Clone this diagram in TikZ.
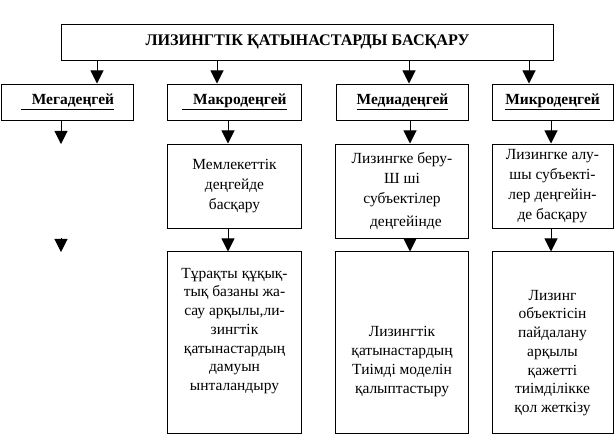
\documentclass[tikz,border=0pt]{standalone}
\usepackage{fontspec}
\setmainfont{Liberation Serif}
\usetikzlibrary{arrows.meta}

\begin{document}
\begin{tikzpicture}[x=0.025cm,y=-0.025cm,
    box/.style={draw,line width=0.7pt,inner sep=0pt,align=center},
    level/.style={box,minimum height=0.9cm,font=\fontsize{11}{13}\selectfont\bfseries},
    txt/.style={align=center,inner sep=0pt,font=\fontsize{11}{13.3}\selectfont},
    arr/.style={line width=0.7pt,-{Triangle[width=0.33cm,length=0.33cm]}}]
  \useasboundingbox (0,0) rectangle (616,436);

  % title
  \node[box,minimum width=12.275cm,minimum height=0.9cm,font=\fontsize{11.5}{13}\selectfont\bfseries] (top) at (307.5,42) {ЛИЗИНГТІК ҚАТЫНАСТАРДЫ БАСҚАРУ};

  % levels
  \node[level,minimum width=3.275cm] (mega) at (67.5,102) {\underline{\hspace{0.7em}Мегадеңгей}};
  \node[level,minimum width=3.325cm] (makro) at (234.5,102) {\underline{\hspace{0.7em}Макродеңгей}};
  \node[level,minimum width=3.3cm] (media) at (402.5,102) {\underline{Медиадеңгей}};
  \node[level,minimum width=3.025cm] (mikro) at (552.5,102) {\underline{Микродеңгей}};

  % middle row
  \node[box,minimum width=3.325cm,minimum height=2.1cm,font=\fontsize{11}{14.2}\selectfont] (makroB) at (234.5,186) {Мемлекеттік\\деңгейде\\басқару};
  \node[box,minimum width=3.3cm,minimum height=2.35cm,font=\fontsize{11}{14.2}\selectfont] (mediaB) at (402,191) {Лизингке беру-\\Ш ші\\субъектілер\hspace*{1.5em}\\[2pt]\hspace*{0.5em}деңгейінде};
  \node[box,minimum width=3.025cm,minimum height=2.1cm,font=\fontsize{11}{14.2}\selectfont] (mikroB) at (552.5,186) {Лизингке алу-\\шы субъекті-\\лер деңгейін-\\де басқару};

  % lower row
  \node[box,minimum width=3.325cm,minimum height=4.525cm] (makroC) at (234.5,342.5) {};
  \node[box,minimum width=3.3cm,minimum height=4.525cm] (mediaC) at (402,342.5) {};
  \node[box,minimum width=3.025cm,minimum height=4.525cm] (mikroC) at (552.5,342.5) {};
  \node[txt] (makroT) at ([yshift=0.29cm]makroC.center) {Тұрақты құқық-\\тық базаны жа-\\сау арқылы,ли-\\зингтік\\қатынастардың\\дамуын\\ынталандыру};
  \node[txt] (mediaT) at ([yshift=-0.475cm]mediaC.center) {Лизингтік\\қатынастардың\\Тиімді моделін\\қалыптастыру};
  \node[txt] (mikroT) at ([yshift=-0.26cm]mikroC.center) {Лизинг\\объектісін\\пайдалану\\арқылы\\қажетті\\тиімділікке\\қол жеткізу};

  % arrow columns
  \coordinate (c1) at (97,0);  \coordinate (c2) at (217,0);
  \coordinate (c3) at (409,0); \coordinate (c4) at (529,0);
  \coordinate (d2) at (228,0); \coordinate (d3) at (410,0);
  \coordinate (d4) at (551,0);
  \coordinate (m1) at (61,144); \coordinate (m2) at (61,238);
  \coordinate (m3) at (61,252);

  % title to levels
  \draw[arr] (top.south -| c1) -- (mega.north -| c1);
  \draw[arr] (top.south -| c2) -- (makro.north -| c2);
  \draw[arr] (top.south -| c3) -- (media.north -| c3);
  \draw[arr] (top.south -| c4) -- (mikro.north -| c4);

  % levels down
  \draw[arr] (mega.south -| m1) -- (m1);
  \draw[arr] (m2) -- (m3);
  \draw[arr] (makro.south -| d2) -- (makroB.north -| d2);
  \draw[arr] (makroB.south -| d2) -- (makroC.north -| d2);
  \draw[arr] (media.south -| d3) -- (mediaB.north -| d3);
  \draw[arr] (mediaB.south -| d3) -- (mediaC.north -| d3);
  \draw[arr] (mikro.south -| d4) -- (mikroB.north -| d4);
  \draw[arr] (mikroB.south -| d4) -- (mikroC.north -| d4);
\end{tikzpicture}
\end{document}
